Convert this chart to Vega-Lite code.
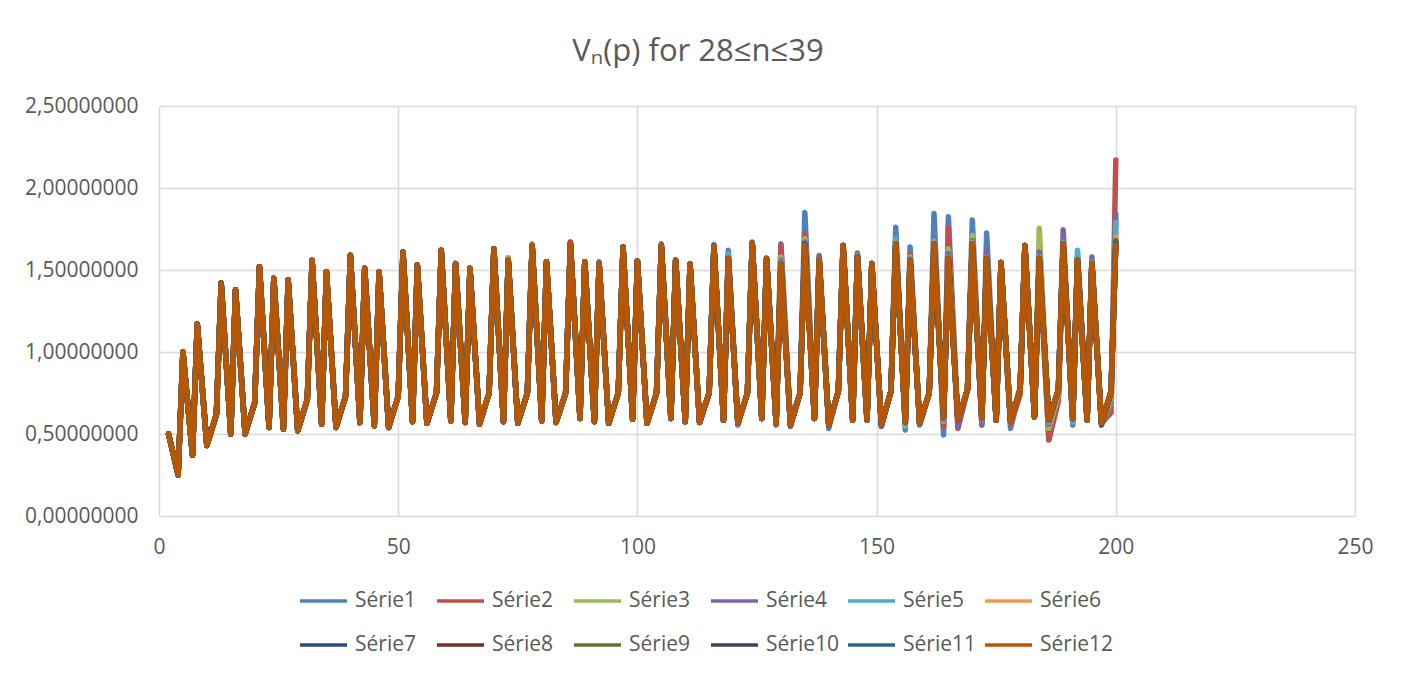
{
  "$schema": "https://vega.github.io/schema/vega-lite/v6.json",
  "width": 1196,
  "height": 410,
  "autosize": {"type": "none"},
  "padding": {"left": 159, "top": 106, "right": 52, "bottom": 161},
  "background": "white",
  "config": {
    "locale": {"number": {"decimal": ",", "thousands": ".", "grouping": [3], "currency": ["", " €"]}},
    "view": {"stroke": null},
    "font": "Open Sans"
  },
  "title": {
    "text": "Vₙ(p) for 28≤n≤39",
    "font": "Open Sans",
    "fontSize": 31,
    "fontWeight": "normal",
    "color": "#595959",
    "anchor": "middle",
    "frame": "group",
    "dx": -59,
    "offset": 27
  },
  "data": {
    "values": [
      {"x":2,"Série1":0.5,"Série2":0.5,"Série3":0.5,"Série4":0.5,"Série5":0.5,"Série6":0.5,"Série7":0.5,"Série8":0.5,"Série9":0.5,"Série10":0.5,"Série11":0.5,"Série12":0.5},
      {"x":4,"Série1":0.25,"Série2":0.25,"Série3":0.25,"Série4":0.25,"Série5":0.25,"Série6":0.25,"Série7":0.25,"Série8":0.25,"Série9":0.25,"Série10":0.25,"Série11":0.25,"Série12":0.25},
      {"x":5,"Série1":1.0,"Série2":1.0,"Série3":1.0,"Série4":1.0,"Série5":1.0,"Série6":1.0,"Série7":1.0,"Série8":1.0,"Série9":1.0,"Série10":1.0,"Série11":1.0,"Série12":1.0},
      {"x":7,"Série1":0.37,"Série2":0.37,"Série3":0.37,"Série4":0.37,"Série5":0.37,"Série6":0.37,"Série7":0.37,"Série8":0.37,"Série9":0.37,"Série10":0.37,"Série11":0.37,"Série12":0.37},
      {"x":8,"Série1":1.17,"Série2":1.17,"Série3":1.17,"Série4":1.17,"Série5":1.17,"Série6":1.17,"Série7":1.17,"Série8":1.17,"Série9":1.17,"Série10":1.17,"Série11":1.17,"Série12":1.17},
      {"x":10,"Série1":0.43,"Série2":0.43,"Série3":0.43,"Série4":0.43,"Série5":0.43,"Série6":0.43,"Série7":0.43,"Série8":0.43,"Série9":0.43,"Série10":0.43,"Série11":0.43,"Série12":0.43},
      {"x":12,"Série1":0.62,"Série2":0.62,"Série3":0.62,"Série4":0.62,"Série5":0.62,"Série6":0.62,"Série7":0.62,"Série8":0.62,"Série9":0.62,"Série10":0.62,"Série11":0.62,"Série12":0.62},
      {"x":13,"Série1":1.42,"Série2":1.42,"Série3":1.42,"Série4":1.42,"Série5":1.42,"Série6":1.42,"Série7":1.42,"Série8":1.42,"Série9":1.42,"Série10":1.42,"Série11":1.42,"Série12":1.42},
      {"x":15,"Série1":0.5,"Série2":0.5,"Série3":0.5,"Série4":0.5,"Série5":0.5,"Série6":0.5,"Série7":0.5,"Série8":0.5,"Série9":0.5,"Série10":0.5,"Série11":0.5,"Série12":0.5},
      {"x":16,"Série1":1.38,"Série2":1.38,"Série3":1.38,"Série4":1.38,"Série5":1.38,"Série6":1.38,"Série7":1.38,"Série8":1.38,"Série9":1.38,"Série10":1.38,"Série11":1.38,"Série12":1.38},
      {"x":18,"Série1":0.5,"Série2":0.5,"Série3":0.5,"Série4":0.5,"Série5":0.5,"Série6":0.5,"Série7":0.5,"Série8":0.5,"Série9":0.5,"Série10":0.5,"Série11":0.5,"Série12":0.5},
      {"x":20,"Série1":0.69,"Série2":0.69,"Série3":0.69,"Série4":0.69,"Série5":0.69,"Série6":0.69,"Série7":0.69,"Série8":0.69,"Série9":0.69,"Série10":0.69,"Série11":0.69,"Série12":0.69},
      {"x":21,"Série1":1.52,"Série2":1.52,"Série3":1.52,"Série4":1.52,"Série5":1.52,"Série6":1.52,"Série7":1.52,"Série8":1.52,"Série9":1.52,"Série10":1.52,"Série11":1.52,"Série12":1.52},
      {"x":23,"Série1":0.54,"Série2":0.54,"Série3":0.54,"Série4":0.54,"Série5":0.54,"Série6":0.54,"Série7":0.54,"Série8":0.54,"Série9":0.54,"Série10":0.54,"Série11":0.54,"Série12":0.54},
      {"x":24,"Série1":1.45,"Série2":1.45,"Série3":1.45,"Série4":1.45,"Série5":1.45,"Série6":1.45,"Série7":1.45,"Série8":1.45,"Série9":1.45,"Série10":1.45,"Série11":1.45,"Série12":1.45},
      {"x":26,"Série1":0.53,"Série2":0.53,"Série3":0.53,"Série4":0.53,"Série5":0.53,"Série6":0.53,"Série7":0.53,"Série8":0.53,"Série9":0.53,"Série10":0.53,"Série11":0.53,"Série12":0.53},
      {"x":27,"Série1":1.44,"Série2":1.44,"Série3":1.44,"Série4":1.44,"Série5":1.44,"Série6":1.44,"Série7":1.44,"Série8":1.44,"Série9":1.44,"Série10":1.44,"Série11":1.44,"Série12":1.44},
      {"x":29,"Série1":0.52,"Série2":0.52,"Série3":0.52,"Série4":0.52,"Série5":0.52,"Série6":0.52,"Série7":0.52,"Série8":0.52,"Série9":0.52,"Série10":0.52,"Série11":0.52,"Série12":0.52},
      {"x":31,"Série1":0.71,"Série2":0.71,"Série3":0.71,"Série4":0.71,"Série5":0.71,"Série6":0.71,"Série7":0.71,"Série8":0.71,"Série9":0.71,"Série10":0.71,"Série11":0.71,"Série12":0.71},
      {"x":32,"Série1":1.56,"Série2":1.56,"Série3":1.56,"Série4":1.56,"Série5":1.56,"Série6":1.56,"Série7":1.56,"Série8":1.56,"Série9":1.56,"Série10":1.56,"Série11":1.56,"Série12":1.56},
      {"x":34,"Série1":0.56,"Série2":0.56,"Série3":0.56,"Série4":0.56,"Série5":0.56,"Série6":0.56,"Série7":0.56,"Série8":0.56,"Série9":0.56,"Série10":0.56,"Série11":0.56,"Série12":0.56},
      {"x":35,"Série1":1.49,"Série2":1.49,"Série3":1.49,"Série4":1.49,"Série5":1.49,"Série6":1.49,"Série7":1.49,"Série8":1.49,"Série9":1.49,"Série10":1.49,"Série11":1.49,"Série12":1.49},
      {"x":37,"Série1":0.54,"Série2":0.54,"Série3":0.54,"Série4":0.54,"Série5":0.54,"Série6":0.54,"Série7":0.54,"Série8":0.54,"Série9":0.54,"Série10":0.54,"Série11":0.54,"Série12":0.54},
      {"x":39,"Série1":0.73,"Série2":0.73,"Série3":0.73,"Série4":0.73,"Série5":0.73,"Série6":0.73,"Série7":0.73,"Série8":0.73,"Série9":0.73,"Série10":0.73,"Série11":0.73,"Série12":0.73},
      {"x":40,"Série1":1.59,"Série2":1.59,"Série3":1.59,"Série4":1.59,"Série5":1.59,"Série6":1.59,"Série7":1.59,"Série8":1.59,"Série9":1.59,"Série10":1.59,"Série11":1.59,"Série12":1.59},
      {"x":42,"Série1":0.57,"Série2":0.57,"Série3":0.57,"Série4":0.57,"Série5":0.57,"Série6":0.57,"Série7":0.57,"Série8":0.57,"Série9":0.57,"Série10":0.57,"Série11":0.57,"Série12":0.57},
      {"x":43,"Série1":1.51,"Série2":1.51,"Série3":1.51,"Série4":1.51,"Série5":1.51,"Série6":1.51,"Série7":1.51,"Série8":1.51,"Série9":1.51,"Série10":1.51,"Série11":1.51,"Série12":1.51},
      {"x":45,"Série1":0.55,"Série2":0.55,"Série3":0.55,"Série4":0.55,"Série5":0.55,"Série6":0.55,"Série7":0.55,"Série8":0.55,"Série9":0.55,"Série10":0.55,"Série11":0.55,"Série12":0.55},
      {"x":46,"Série1":1.49,"Série2":1.49,"Série3":1.49,"Série4":1.49,"Série5":1.49,"Série6":1.49,"Série7":1.49,"Série8":1.49,"Série9":1.49,"Série10":1.49,"Série11":1.49,"Série12":1.49},
      {"x":48,"Série1":0.54,"Série2":0.54,"Série3":0.54,"Série4":0.54,"Série5":0.54,"Série6":0.54,"Série7":0.54,"Série8":0.54,"Série9":0.54,"Série10":0.54,"Série11":0.54,"Série12":0.54},
      {"x":50,"Série1":0.73,"Série2":0.73,"Série3":0.73,"Série4":0.73,"Série5":0.73,"Série6":0.73,"Série7":0.73,"Série8":0.73,"Série9":0.73,"Série10":0.73,"Série11":0.73,"Série12":0.73},
      {"x":51,"Série1":1.61,"Série2":1.61,"Série3":1.61,"Série4":1.61,"Série5":1.61,"Série6":1.61,"Série7":1.61,"Série8":1.61,"Série9":1.61,"Série10":1.61,"Série11":1.61,"Série12":1.61},
      {"x":53,"Série1":0.575,"Série2":0.575,"Série3":0.575,"Série4":0.575,"Série5":0.575,"Série6":0.575,"Série7":0.575,"Série8":0.575,"Série9":0.575,"Série10":0.575,"Série11":0.575,"Série12":0.575},
      {"x":54,"Série1":1.53,"Série2":1.53,"Série3":1.53,"Série4":1.53,"Série5":1.53,"Série6":1.53,"Série7":1.53,"Série8":1.53,"Série9":1.53,"Série10":1.53,"Série11":1.53,"Série12":1.53},
      {"x":56,"Série1":0.565,"Série2":0.565,"Série3":0.565,"Série4":0.565,"Série5":0.565,"Série6":0.565,"Série7":0.565,"Série8":0.565,"Série9":0.565,"Série10":0.565,"Série11":0.565,"Série12":0.565},
      {"x":58,"Série1":0.75,"Série2":0.75,"Série3":0.75,"Série4":0.75,"Série5":0.75,"Série6":0.75,"Série7":0.75,"Série8":0.75,"Série9":0.75,"Série10":0.75,"Série11":0.75,"Série12":0.75},
      {"x":59,"Série1":1.62,"Série2":1.62,"Série3":1.62,"Série4":1.62,"Série5":1.62,"Série6":1.62,"Série7":1.62,"Série8":1.62,"Série9":1.62,"Série10":1.62,"Série11":1.62,"Série12":1.62},
      {"x":61,"Série1":0.58,"Série2":0.58,"Série3":0.58,"Série4":0.58,"Série5":0.58,"Série6":0.58,"Série7":0.58,"Série8":0.58,"Série9":0.58,"Série10":0.58,"Série11":0.58,"Série12":0.58},
      {"x":62,"Série1":1.54,"Série2":1.54,"Série3":1.54,"Série4":1.54,"Série5":1.54,"Série6":1.54,"Série7":1.54,"Série8":1.54,"Série9":1.54,"Série10":1.54,"Série11":1.54,"Série12":1.54},
      {"x":64,"Série1":0.57,"Série2":0.57,"Série3":0.57,"Série4":0.57,"Série5":0.57,"Série6":0.57,"Série7":0.57,"Série8":0.57,"Série9":0.57,"Série10":0.57,"Série11":0.57,"Série12":0.57},
      {"x":65,"Série1":1.51,"Série2":1.51,"Série3":1.51,"Série4":1.51,"Série5":1.51,"Série6":1.51,"Série7":1.51,"Série8":1.51,"Série9":1.51,"Série10":1.51,"Série11":1.51,"Série12":1.51},
      {"x":67,"Série1":0.56,"Série2":0.56,"Série3":0.56,"Série4":0.56,"Série5":0.56,"Série6":0.56,"Série7":0.56,"Série8":0.56,"Série9":0.56,"Série10":0.56,"Série11":0.56,"Série12":0.56},
      {"x":69,"Série1":0.75,"Série2":0.75,"Série3":0.75,"Série4":0.75,"Série5":0.75,"Série6":0.75,"Série7":0.75,"Série8":0.75,"Série9":0.75,"Série10":0.75,"Série11":0.75,"Série12":0.75},
      {"x":70,"Série1":1.63,"Série2":1.63,"Série3":1.63,"Série4":1.63,"Série5":1.63,"Série6":1.63,"Série7":1.63,"Série8":1.63,"Série9":1.63,"Série10":1.63,"Série11":1.63,"Série12":1.63},
      {"x":72,"Série1":0.575,"Série2":0.575,"Série3":0.575,"Série4":0.575,"Série5":0.575,"Série6":0.575,"Série7":0.575,"Série8":0.575,"Série9":0.575,"Série10":0.575,"Série11":0.575,"Série12":0.575},
      {"x":73,"Série1":1.575,"Série2":1.57,"Série3":1.575,"Série4":1.56,"Série5":1.56,"Série6":1.56,"Série7":1.56,"Série8":1.56,"Série9":1.56,"Série10":1.56,"Série11":1.56,"Série12":1.56},
      {"x":75,"Série1":0.565,"Série2":0.565,"Série3":0.565,"Série4":0.565,"Série5":0.565,"Série6":0.565,"Série7":0.565,"Série8":0.565,"Série9":0.565,"Série10":0.565,"Série11":0.565,"Série12":0.565},
      {"x":77,"Série1":0.75,"Série2":0.75,"Série3":0.75,"Série4":0.75,"Série5":0.75,"Série6":0.75,"Série7":0.75,"Série8":0.75,"Série9":0.75,"Série10":0.75,"Série11":0.75,"Série12":0.75},
      {"x":78,"Série1":1.65,"Série2":1.65,"Série3":1.66,"Série4":1.65,"Série5":1.65,"Série6":1.65,"Série7":1.65,"Série8":1.65,"Série9":1.65,"Série10":1.65,"Série11":1.65,"Série12":1.65},
      {"x":80,"Série1":0.58,"Série2":0.58,"Série3":0.58,"Série4":0.58,"Série5":0.58,"Série6":0.58,"Série7":0.58,"Série8":0.58,"Série9":0.58,"Série10":0.58,"Série11":0.58,"Série12":0.58},
      {"x":81,"Série1":1.55,"Série2":1.55,"Série3":1.55,"Série4":1.55,"Série5":1.55,"Série6":1.55,"Série7":1.55,"Série8":1.55,"Série9":1.55,"Série10":1.55,"Série11":1.55,"Série12":1.55},
      {"x":83,"Série1":0.57,"Série2":0.57,"Série3":0.57,"Série4":0.57,"Série5":0.57,"Série6":0.57,"Série7":0.57,"Série8":0.57,"Série9":0.57,"Série10":0.57,"Série11":0.57,"Série12":0.57},
      {"x":85,"Série1":0.75,"Série2":0.75,"Série3":0.75,"Série4":0.75,"Série5":0.75,"Série6":0.75,"Série7":0.75,"Série8":0.75,"Série9":0.75,"Série10":0.75,"Série11":0.75,"Série12":0.75},
      {"x":86,"Série1":1.67,"Série2":1.67,"Série3":1.66,"Série4":1.66,"Série5":1.66,"Série6":1.66,"Série7":1.66,"Série8":1.66,"Série9":1.66,"Série10":1.66,"Série11":1.66,"Série12":1.66},
      {"x":88,"Série1":0.595,"Série2":0.595,"Série3":0.595,"Série4":0.595,"Série5":0.595,"Série6":0.595,"Série7":0.595,"Série8":0.595,"Série9":0.595,"Série10":0.595,"Série11":0.595,"Série12":0.595},
      {"x":89,"Série1":1.55,"Série2":1.55,"Série3":1.55,"Série4":1.55,"Série5":1.55,"Série6":1.55,"Série7":1.55,"Série8":1.55,"Série9":1.55,"Série10":1.55,"Série11":1.55,"Série12":1.55},
      {"x":91,"Série1":0.575,"Série2":0.575,"Série3":0.575,"Série4":0.575,"Série5":0.575,"Série6":0.575,"Série7":0.575,"Série8":0.575,"Série9":0.575,"Série10":0.575,"Série11":0.575,"Série12":0.575},
      {"x":92,"Série1":1.55,"Série2":1.54,"Série3":1.54,"Série4":1.54,"Série5":1.54,"Série6":1.54,"Série7":1.54,"Série8":1.54,"Série9":1.54,"Série10":1.54,"Série11":1.54,"Série12":1.54},
      {"x":94,"Série1":0.565,"Série2":0.565,"Série3":0.565,"Série4":0.565,"Série5":0.565,"Série6":0.565,"Série7":0.565,"Série8":0.565,"Série9":0.565,"Série10":0.565,"Série11":0.565,"Série12":0.565},
      {"x":96,"Série1":0.75,"Série2":0.75,"Série3":0.75,"Série4":0.75,"Série5":0.75,"Série6":0.75,"Série7":0.75,"Série8":0.75,"Série9":0.75,"Série10":0.75,"Série11":0.75,"Série12":0.75},
      {"x":97,"Série1":1.64,"Série2":1.64,"Série3":1.64,"Série4":1.64,"Série5":1.64,"Série6":1.64,"Série7":1.64,"Série8":1.64,"Série9":1.64,"Série10":1.64,"Série11":1.64,"Série12":1.64},
      {"x":99,"Série1":0.59,"Série2":0.59,"Série3":0.59,"Série4":0.59,"Série5":0.59,"Série6":0.59,"Série7":0.59,"Série8":0.59,"Série9":0.59,"Série10":0.59,"Série11":0.59,"Série12":0.59},
      {"x":100,"Série1":1.555,"Série2":1.555,"Série3":1.555,"Série4":1.555,"Série5":1.555,"Série6":1.555,"Série7":1.555,"Série8":1.555,"Série9":1.555,"Série10":1.555,"Série11":1.555,"Série12":1.555},
      {"x":102,"Série1":0.565,"Série2":0.565,"Série3":0.565,"Série4":0.565,"Série5":0.565,"Série6":0.565,"Série7":0.565,"Série8":0.565,"Série9":0.565,"Série10":0.565,"Série11":0.565,"Série12":0.565},
      {"x":104,"Série1":0.75,"Série2":0.75,"Série3":0.75,"Série4":0.75,"Série5":0.75,"Série6":0.75,"Série7":0.75,"Série8":0.75,"Série9":0.75,"Série10":0.75,"Série11":0.75,"Série12":0.75},
      {"x":105,"Série1":1.66,"Série2":1.65,"Série3":1.65,"Série4":1.65,"Série5":1.65,"Série6":1.65,"Série7":1.65,"Série8":1.65,"Série9":1.65,"Série10":1.65,"Série11":1.65,"Série12":1.65},
      {"x":107,"Série1":0.595,"Série2":0.595,"Série3":0.595,"Série4":0.595,"Série5":0.595,"Série6":0.595,"Série7":0.595,"Série8":0.595,"Série9":0.595,"Série10":0.595,"Série11":0.595,"Série12":0.595},
      {"x":108,"Série1":1.56,"Série2":1.56,"Série3":1.56,"Série4":1.56,"Série5":1.56,"Série6":1.56,"Série7":1.56,"Série8":1.56,"Série9":1.56,"Série10":1.56,"Série11":1.56,"Série12":1.56},
      {"x":110,"Série1":0.575,"Série2":0.575,"Série3":0.575,"Série4":0.575,"Série5":0.575,"Série6":0.575,"Série7":0.575,"Série8":0.575,"Série9":0.575,"Série10":0.575,"Série11":0.575,"Série12":0.575},
      {"x":111,"Série1":1.537,"Série2":1.537,"Série3":1.537,"Série4":1.537,"Série5":1.537,"Série6":1.537,"Série7":1.537,"Série8":1.537,"Série9":1.537,"Série10":1.537,"Série11":1.537,"Série12":1.537},
      {"x":113,"Série1":0.57,"Série2":0.57,"Série3":0.57,"Série4":0.57,"Série5":0.57,"Série6":0.57,"Série7":0.57,"Série8":0.57,"Série9":0.57,"Série10":0.57,"Série11":0.57,"Série12":0.57},
      {"x":115,"Série1":0.75,"Série2":0.75,"Série3":0.75,"Série4":0.75,"Série5":0.75,"Série6":0.75,"Série7":0.75,"Série8":0.75,"Série9":0.75,"Série10":0.75,"Série11":0.75,"Série12":0.75},
      {"x":116,"Série1":1.655,"Série2":1.646,"Série3":1.646,"Série4":1.646,"Série5":1.646,"Série6":1.646,"Série7":1.646,"Série8":1.646,"Série9":1.646,"Série10":1.646,"Série11":1.646,"Série12":1.646},
      {"x":118,"Série1":0.585,"Série2":0.585,"Série3":0.585,"Série4":0.585,"Série5":0.585,"Série6":0.585,"Série7":0.585,"Série8":0.585,"Série9":0.585,"Série10":0.585,"Série11":0.585,"Série12":0.585},
      {"x":119,"Série1":1.62,"Série2":1.59,"Série3":1.57,"Série4":1.57,"Série5":1.6,"Série6":1.57,"Série7":1.57,"Série8":1.57,"Série9":1.57,"Série10":1.57,"Série11":1.57,"Série12":1.57},
      {"x":121,"Série1":0.555,"Série2":0.565,"Série3":0.565,"Série4":0.565,"Série5":0.565,"Série6":0.565,"Série7":0.565,"Série8":0.565,"Série9":0.565,"Série10":0.565,"Série11":0.565,"Série12":0.565},
      {"x":123,"Série1":0.75,"Série2":0.75,"Série3":0.75,"Série4":0.75,"Série5":0.75,"Série6":0.75,"Série7":0.75,"Série8":0.75,"Série9":0.75,"Série10":0.75,"Série11":0.75,"Série12":0.75},
      {"x":124,"Série1":1.67,"Série2":1.663,"Série3":1.663,"Série4":1.663,"Série5":1.663,"Série6":1.663,"Série7":1.663,"Série8":1.663,"Série9":1.663,"Série10":1.663,"Série11":1.663,"Série12":1.663},
      {"x":126,"Série1":0.595,"Série2":0.595,"Série3":0.595,"Série4":0.595,"Série5":0.595,"Série6":0.595,"Série7":0.595,"Série8":0.595,"Série9":0.595,"Série10":0.595,"Série11":0.595,"Série12":0.595},
      {"x":127,"Série1":1.57,"Série2":1.57,"Série3":1.575,"Série4":1.57,"Série5":1.57,"Série6":1.57,"Série7":1.57,"Série8":1.57,"Série9":1.57,"Série10":1.57,"Série11":1.57,"Série12":1.57},
      {"x":129,"Série1":0.565,"Série2":0.555,"Série3":0.565,"Série4":0.565,"Série5":0.565,"Série6":0.565,"Série7":0.565,"Série8":0.565,"Série9":0.565,"Série10":0.565,"Série11":0.565,"Série12":0.565},
      {"x":130,"Série1":1.66,"Série2":1.65,"Série3":1.58,"Série4":1.56,"Série5":1.55,"Série6":1.54,"Série7":1.54,"Série8":1.54,"Série9":1.54,"Série10":1.54,"Série11":1.54,"Série12":1.54},
      {"x":132,"Série1":0.545,"Série2":0.555,"Série3":0.555,"Série4":0.555,"Série5":0.555,"Série6":0.555,"Série7":0.555,"Série8":0.555,"Série9":0.555,"Série10":0.555,"Série11":0.555,"Série12":0.555},
      {"x":134,"Série1":0.75,"Série2":0.75,"Série3":0.75,"Série4":0.75,"Série5":0.75,"Série6":0.75,"Série7":0.75,"Série8":0.75,"Série9":0.75,"Série10":0.75,"Série11":0.75,"Série12":0.75},
      {"x":135,"Série1":1.85,"Série2":1.72,"Série3":1.69,"Série4":1.67,"Série5":1.665,"Série6":1.66,"Série7":1.66,"Série8":1.655,"Série9":1.655,"Série10":1.66,"Série11":1.655,"Série12":1.65},
      {"x":137,"Série1":0.595,"Série2":0.595,"Série3":0.595,"Série4":0.595,"Série5":0.595,"Série6":0.595,"Série7":0.595,"Série8":0.595,"Série9":0.595,"Série10":0.595,"Série11":0.595,"Série12":0.595},
      {"x":138,"Série1":1.56,"Série2":1.57,"Série3":1.59,"Série4":1.585,"Série5":1.56,"Série6":1.56,"Série7":1.56,"Série8":1.56,"Série9":1.56,"Série10":1.56,"Série11":1.56,"Série12":1.56},
      {"x":140,"Série1":0.535,"Série2":0.555,"Série3":0.555,"Série4":0.555,"Série5":0.555,"Série6":0.555,"Série7":0.555,"Série8":0.555,"Série9":0.555,"Série10":0.555,"Série11":0.555,"Série12":0.555},
      {"x":142,"Série1":0.76,"Série2":0.76,"Série3":0.76,"Série4":0.76,"Série5":0.76,"Série6":0.76,"Série7":0.76,"Série8":0.76,"Série9":0.76,"Série10":0.76,"Série11":0.76,"Série12":0.76},
      {"x":143,"Série1":1.65,"Série2":1.65,"Série3":1.65,"Série4":1.65,"Série5":1.65,"Série6":1.65,"Série7":1.65,"Série8":1.65,"Série9":1.65,"Série10":1.65,"Série11":1.65,"Série12":1.65},
      {"x":145,"Série1":0.585,"Série2":0.585,"Série3":0.585,"Série4":0.585,"Série5":0.585,"Série6":0.585,"Série7":0.585,"Série8":0.585,"Série9":0.585,"Série10":0.585,"Série11":0.585,"Série12":0.585},
      {"x":146,"Série1":1.59,"Série2":1.59,"Série3":1.605,"Série4":1.6,"Série5":1.59,"Série6":1.58,"Série7":1.58,"Série8":1.58,"Série9":1.58,"Série10":1.58,"Série11":1.58,"Série12":1.58},
      {"x":148,"Série1":0.585,"Série2":0.585,"Série3":0.585,"Série4":0.585,"Série5":0.585,"Série6":0.585,"Série7":0.585,"Série8":0.585,"Série9":0.585,"Série10":0.585,"Série11":0.585,"Série12":0.585},
      {"x":149,"Série1":1.54,"Série2":1.54,"Série3":1.54,"Série4":1.54,"Série5":1.54,"Série6":1.54,"Série7":1.54,"Série8":1.54,"Série9":1.54,"Série10":1.54,"Série11":1.54,"Série12":1.54},
      {"x":151,"Série1":0.545,"Série2":0.555,"Série3":0.555,"Série4":0.555,"Série5":0.555,"Série6":0.555,"Série7":0.555,"Série8":0.555,"Série9":0.555,"Série10":0.555,"Série11":0.555,"Série12":0.555},
      {"x":153,"Série1":0.76,"Série2":0.76,"Série3":0.76,"Série4":0.76,"Série5":0.76,"Série6":0.76,"Série7":0.76,"Série8":0.76,"Série9":0.76,"Série10":0.76,"Série11":0.76,"Série12":0.76},
      {"x":154,"Série1":1.76,"Série2":1.68,"Série3":1.67,"Série4":1.67,"Série5":1.69,"Série6":1.665,"Série7":1.66,"Série8":1.66,"Série9":1.66,"Série10":1.66,"Série11":1.66,"Série12":1.66},
      {"x":156,"Série1":0.525,"Série2":0.56,"Série3":0.55,"Série4":0.565,"Série5":0.57,"Série6":0.575,"Série7":0.575,"Série8":0.575,"Série9":0.575,"Série10":0.575,"Série11":0.575,"Série12":0.575},
      {"x":157,"Série1":1.64,"Série2":1.595,"Série3":1.58,"Série4":1.57,"Série5":1.57,"Série6":1.56,"Série7":1.56,"Série8":1.56,"Série9":1.56,"Série10":1.56,"Série11":1.56,"Série12":1.56},
      {"x":159,"Série1":0.555,"Série2":0.565,"Série3":0.565,"Série4":0.565,"Série5":0.565,"Série6":0.565,"Série7":0.565,"Série8":0.565,"Série9":0.565,"Série10":0.565,"Série11":0.565,"Série12":0.565},
      {"x":161,"Série1":0.75,"Série2":0.75,"Série3":0.75,"Série4":0.75,"Série5":0.75,"Série6":0.75,"Série7":0.75,"Série8":0.75,"Série9":0.75,"Série10":0.75,"Série11":0.75,"Série12":0.75},
      {"x":162,"Série1":1.845,"Série2":1.68,"Série3":1.67,"Série4":1.69,"Série5":1.68,"Série6":1.665,"Série7":1.66,"Série8":1.66,"Série9":1.66,"Série10":1.66,"Série11":1.66,"Série12":1.66},
      {"x":164,"Série1":0.495,"Série2":0.545,"Série3":0.58,"Série4":0.59,"Série5":0.6,"Série6":0.605,"Série7":0.605,"Série8":0.605,"Série9":0.605,"Série10":0.605,"Série11":0.605,"Série12":0.605},
      {"x":165,"Série1":1.825,"Série2":1.755,"Série3":1.63,"Série4":1.6,"Série5":1.58,"Série6":1.57,"Série7":1.57,"Série8":1.57,"Série9":1.57,"Série10":1.57,"Série11":1.57,"Série12":1.57},
      {"x":167,"Série1":0.57,"Série2":0.535,"Série3":0.57,"Série4":0.545,"Série5":0.585,"Série6":0.585,"Série7":0.585,"Série8":0.585,"Série9":0.585,"Série10":0.585,"Série11":0.585,"Série12":0.585},
      {"x":169,"Série1":0.77,"Série2":0.77,"Série3":0.77,"Série4":0.77,"Série5":0.77,"Série6":0.77,"Série7":0.77,"Série8":0.77,"Série9":0.77,"Série10":0.77,"Série11":0.77,"Série12":0.77},
      {"x":170,"Série1":1.805,"Série2":1.69,"Série3":1.71,"Série4":1.68,"Série5":1.67,"Série6":1.665,"Série7":1.66,"Série8":1.66,"Série9":1.66,"Série10":1.66,"Série11":1.66,"Série12":1.66},
      {"x":172,"Série1":0.555,"Série2":0.57,"Série3":0.575,"Série4":0.555,"Série5":0.585,"Série6":0.595,"Série7":0.595,"Série8":0.595,"Série9":0.595,"Série10":0.595,"Série11":0.595,"Série12":0.595},
      {"x":173,"Série1":1.725,"Série2":1.6,"Série3":1.6,"Série4":1.62,"Série5":1.58,"Série6":1.57,"Série7":1.57,"Série8":1.57,"Série9":1.57,"Série10":1.57,"Série11":1.57,"Série12":1.57},
      {"x":175,"Série1":0.585,"Série2":0.585,"Série3":0.585,"Série4":0.585,"Série5":0.585,"Série6":0.585,"Série7":0.585,"Série8":0.585,"Série9":0.585,"Série10":0.585,"Série11":0.585,"Série12":0.585},
      {"x":176,"Série1":1.545,"Série2":1.545,"Série3":1.545,"Série4":1.545,"Série5":1.545,"Série6":1.545,"Série7":1.545,"Série8":1.545,"Série9":1.545,"Série10":1.545,"Série11":1.545,"Série12":1.545},
      {"x":178,"Série1":0.535,"Série2":0.56,"Série3":0.57,"Série4":0.575,"Série5":0.575,"Série6":0.575,"Série7":0.575,"Série8":0.575,"Série9":0.575,"Série10":0.575,"Série11":0.575,"Série12":0.575},
      {"x":180,"Série1":0.77,"Série2":0.74,"Série3":0.79,"Série4":0.77,"Série5":0.77,"Série6":0.77,"Série7":0.77,"Série8":0.77,"Série9":0.77,"Série10":0.77,"Série11":0.77,"Série12":0.77},
      {"x":181,"Série1":1.65,"Série2":1.65,"Série3":1.65,"Série4":1.65,"Série5":1.65,"Série6":1.65,"Série7":1.65,"Série8":1.65,"Série9":1.65,"Série10":1.65,"Série11":1.65,"Série12":1.65},
      {"x":183,"Série1":0.605,"Série2":0.605,"Série3":0.605,"Série4":0.605,"Série5":0.605,"Série6":0.605,"Série7":0.605,"Série8":0.605,"Série9":0.605,"Série10":0.605,"Série11":0.605,"Série12":0.605},
      {"x":184,"Série1":1.58,"Série2":1.59,"Série3":1.755,"Série4":1.61,"Série5":1.58,"Série6":1.575,"Série7":1.57,"Série8":1.57,"Série9":1.57,"Série10":1.57,"Série11":1.57,"Série12":1.57},
      {"x":186,"Série1":0.47,"Série2":0.463,"Série3":0.535,"Série4":0.56,"Série5":0.57,"Série6":0.58,"Série7":0.585,"Série8":0.585,"Série9":0.585,"Série10":0.585,"Série11":0.585,"Série12":0.585},
      {"x":188,"Série1":0.73,"Série2":0.7,"Série3":0.74,"Série4":0.76,"Série5":0.77,"Série6":0.77,"Série7":0.77,"Série8":0.77,"Série9":0.77,"Série10":0.77,"Série11":0.77,"Série12":0.77},
      {"x":189,"Série1":1.66,"Série2":1.66,"Série3":1.67,"Série4":1.745,"Série5":1.67,"Série6":1.66,"Série7":1.66,"Série8":1.66,"Série9":1.66,"Série10":1.66,"Série11":1.66,"Série12":1.66},
      {"x":191,"Série1":0.575,"Série2":0.58,"Série3":0.585,"Série4":0.555,"Série5":0.57,"Série6":0.595,"Série7":0.595,"Série8":0.595,"Série9":0.595,"Série10":0.595,"Série11":0.595,"Série12":0.595},
      {"x":192,"Série1":1.58,"Série2":1.57,"Série3":1.57,"Série4":1.58,"Série5":1.62,"Série6":1.56,"Série7":1.56,"Série8":1.56,"Série9":1.56,"Série10":1.56,"Série11":1.56,"Série12":1.56},
      {"x":194,"Série1":0.585,"Série2":0.585,"Série3":0.585,"Série4":0.585,"Série5":0.585,"Série6":0.585,"Série7":0.585,"Série8":0.585,"Série9":0.585,"Série10":0.585,"Série11":0.585,"Série12":0.585},
      {"x":195,"Série1":1.55,"Série2":1.55,"Série3":1.55,"Série4":1.58,"Série5":1.55,"Série6":1.54,"Série7":1.54,"Série8":1.54,"Série9":1.54,"Série10":1.54,"Série11":1.54,"Série12":1.54},
      {"x":197,"Série1":0.56,"Série2":0.565,"Série3":0.565,"Série4":0.565,"Série5":0.565,"Série6":0.565,"Série7":0.555,"Série8":0.565,"Série9":0.565,"Série10":0.565,"Série11":0.565,"Série12":0.565},
      {"x":199,"Série1":0.68,"Série2":0.63,"Série3":0.69,"Série4":0.7,"Série5":0.71,"Série6":0.73,"Série7":0.75,"Série8":0.75,"Série9":0.76,"Série10":0.76,"Série11":0.76,"Série12":0.76},
      {"x":200,"Série1":1.8,"Série2":2.17,"Série3":1.72,"Série4":1.84,"Série5":1.79,"Série6":1.7,"Série7":1.67,"Série8":1.67,"Série9":1.68,"Série10":1.66,"Série11":1.66,"Série12":1.65}
    ]
  },
  "transform": [
    {"fold": ["Série1","Série2","Série3","Série4","Série5","Série6","Série7","Série8","Série9","Série10","Série11","Série12"], "as": ["serie", "v"]}
  ],
  "mark": {"type": "line", "strokeWidth": 5.5, "strokeJoin": "round", "strokeCap": "round", "clip": false},
  "encoding": {
    "x": {
      "field": "x", "type": "quantitative",
      "scale": {"domain": [0, 250], "nice": false, "zero": false},
      "axis": {
        "title": null, "values": [0, 50, 100, 150, 200, 250],
        "grid": true, "gridColor": "#d9d9d9", "gridWidth": 1.5,
        "domain": false, "ticks": false,
        "labelFont": "Open Sans", "labelFontSize": 21, "labelColor": "#595959",
        "labelPadding": 20, "labelFlush": false
      }
    },
    "y": {
      "field": "v", "type": "quantitative",
      "scale": {"domain": [0, 2.5], "nice": false},
      "axis": {
        "title": null, "values": [0, 0.5, 1, 1.5, 2, 2.5], "format": ".8f",
        "grid": true, "gridColor": "#d9d9d9", "gridWidth": 1.5,
        "domain": false, "ticks": false,
        "labelFont": "Open Sans", "labelFontSize": 21, "labelColor": "#595959",
        "labelPadding": 21, "labelFlush": false
      }
    },
    "color": {
      "field": "serie", "type": "nominal",
      "scale": {
        "domain": ["Série1","Série2","Série3","Série4","Série5","Série6","Série7","Série8","Série9","Série10","Série11","Série12"],
        "range": ["#4F81BD","#C0504D","#9BBB59","#8064A2","#4BACC6","#F79646","#2C4D75","#772C2A","#5F7530","#4D3B62","#276A7C","#B65708"]
      },
      "legend": {
        "title": null, "orient": "none", "legendX": 139, "legendY": 480,
        "direction": "horizontal", "columns": 6, "gridAlign": "all",
        "symbolType": "stroke", "symbolSize": 2209, "symbolStrokeWidth": 3.5,
        "labelFont": "Open Sans", "labelFontSize": 21, "labelColor": "#595959",
        "labelOffset": 6, "columnPadding": 7, "rowPadding": 14, "clipHeight": 30
      }
    }
  }
}
